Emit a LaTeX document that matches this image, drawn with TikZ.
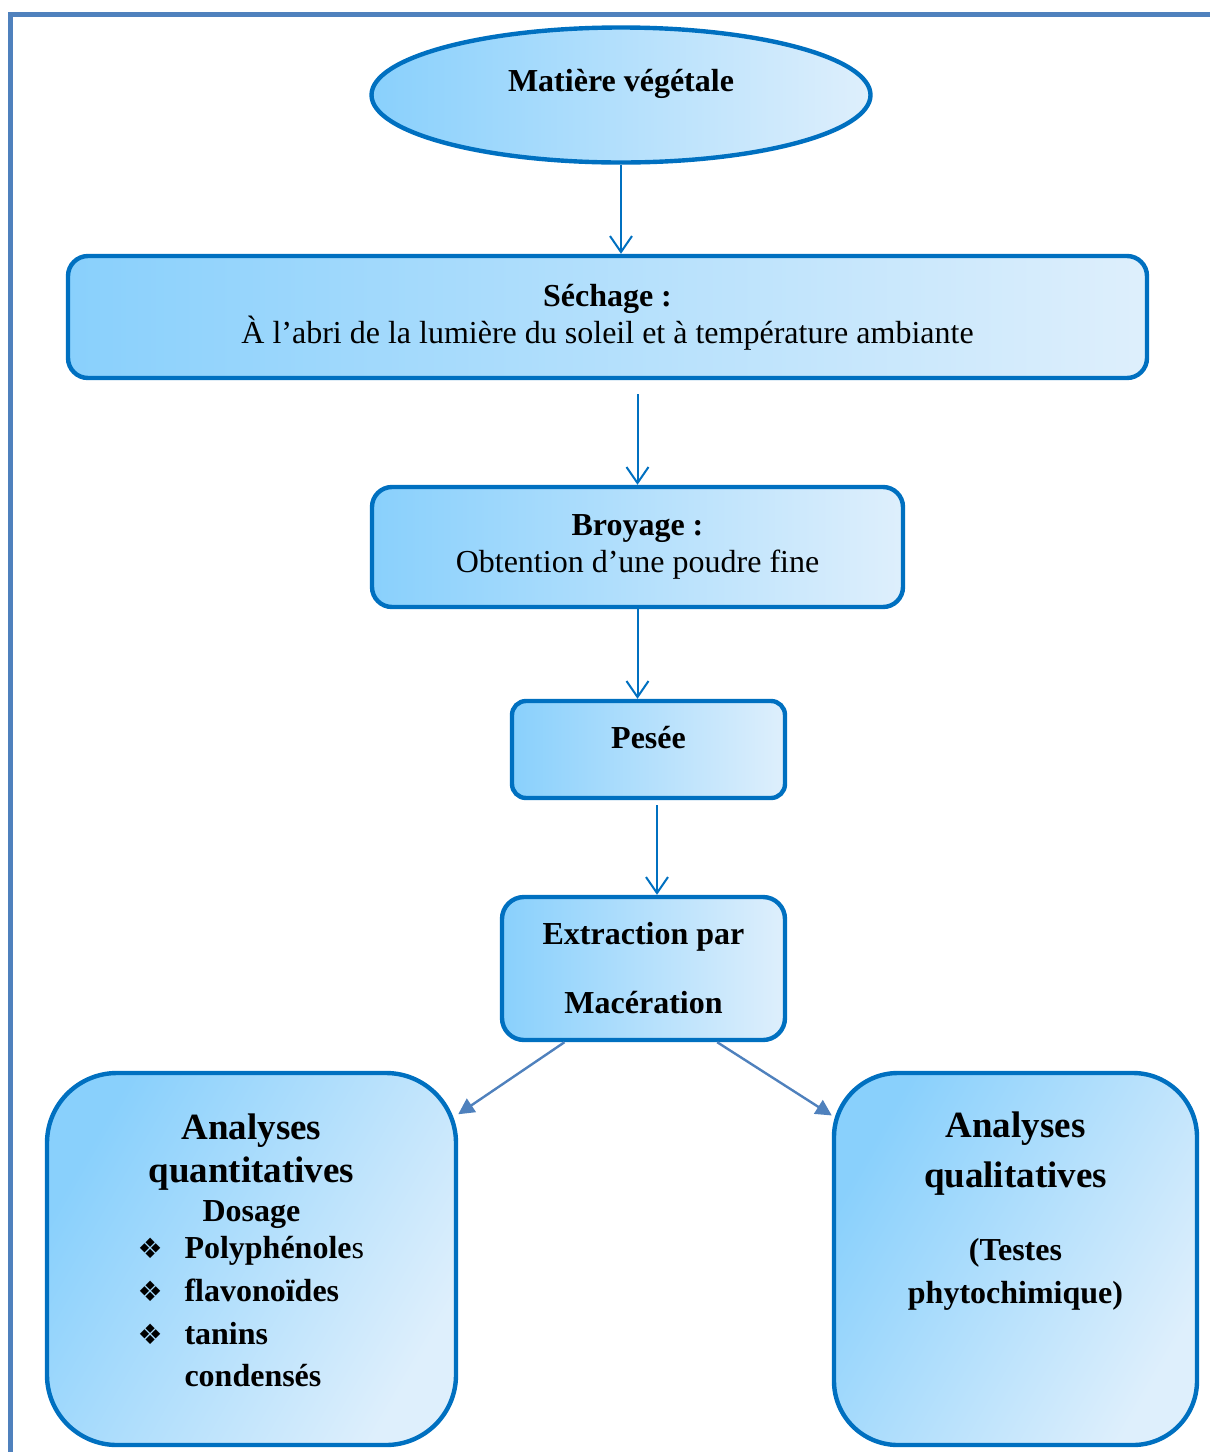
\documentclass[tikz,border=0pt]{standalone}
\usepackage{fontspec}
\setmainfont{Liberation Serif}
\newfontfamily\bulletfont{DejaVu Sans}
\usepackage{xcolor}
\usepackage{tikz}
\usetikzlibrary{arrows.meta,positioning,shapes.geometric}
\definecolor{boxline}{RGB}{0,112,192}
\definecolor{framecol}{RGB}{79,129,189}
\definecolor{skydeep}{RGB}{137,208,252}
\definecolor{skypale}{RGB}{222,239,252}
\newcommand{\diamonditem}[1]{\makebox[114pt][l]{\makebox[23.5pt][l]{\bulletfont\fontsize{14}{14}\selectfont ❖}#1}}

\begin{document}
\begin{tikzpicture}[x=0.5pt, y=-0.5pt,
  every node/.style={font=\fontsize{16}{18.5}\selectfont},
  stagebox/.style={draw=boxline, line width=2.2pt, left color=skydeep, right color=skypale, align=center, inner sep=0pt},
  flowarrow/.style={draw=boxline, line width=1pt, -{Straight Barb[length=8pt,width=11pt]}},
  splitarrow/.style={draw=framecol, line width=1.2pt, -{Triangle[length=8pt,width=8pt]}}]
  \useasboundingbox (0,0) rectangle (1210,1452);
  \draw[framecol, line width=2.5pt] (10,1480) -- (10,14) -- (1240,14);

  \node[stagebox, ellipse, minimum width=249.5pt, minimum height=67.5pt, text depth=15pt] (veg) at (621,95) {\textbf{Matière végétale}};
  \node[stagebox, rounded corners=10pt, minimum width=539.5pt, minimum height=61pt] (sech) at (607.5,317)
    {\textbf{Séchage :}\\À l’abri de la lumière du soleil et à température ambiante};
  \node[stagebox, rounded corners=10pt, minimum width=265.5pt, minimum height=60pt] (broy) at (637.5,547)
    {\textbf{Broyage :}\\Obtention d’une poudre fine};
  \node[stagebox, rounded corners=7pt, minimum width=136.5pt, minimum height=48.5pt, text depth=12pt] (pesee) at (648.5,749.5) {\textbf{Pesée}};
  \node[stagebox, rounded corners=11pt, minimum width=141.5pt, minimum height=71.5pt, font=\fontsize{16}{18.5}\selectfont\bfseries] (extr) at (643.5,968.5)
    {Extraction par\\[16pt]Macération};
  \node[stagebox, rounded corners=35pt, shading angle=60, minimum width=204.5pt, minimum height=186pt, font=\fontsize{16}{18.5}\selectfont\bfseries] (quant) at (251.5,1259)
    {{\fontsize{18.5}{21.5}\selectfont Analyses}\\[3pt]
     {\fontsize{18.5}{21.5}\selectfont quantitatives}\\[1pt]
     Dosage\\
     \diamonditem{Polyphénole{\mdseries s}}\\[3pt]
     \diamonditem{flavonoïdes}\\[3pt]
     \diamonditem{tanins}\\[2.5pt]
     \makebox[114pt][l]{\hspace{23.5pt}condensés}\\[-10pt]\mbox{}};
  \node[stagebox, rounded corners=32pt, shading angle=60, minimum width=181.5pt, minimum height=186pt, font=\fontsize{16}{18.5}\selectfont\bfseries] (qual) at (1015.5,1259)
    {{\fontsize{18.5}{21.5}\selectfont Analyses}\\[6.5pt]
     {\fontsize{18.5}{21.5}\selectfont qualitatives}\\[18pt]
     (Testes\\[3pt]
     phytochimique)\\[32.5pt]\mbox{}};

  \coordinate (pesout) at ([xshift=4.25pt]pesee.south);
  \draw[flowarrow] (veg.south) -- (veg.south |- sech.north);
  \draw[flowarrow, shorten <=7pt] (sech.south -| broy.north) -- (broy.north);
  \draw[flowarrow] (broy.south) -- (broy.south |- pesee.north);
  \draw[flowarrow, shorten <=2.5pt] (pesout) -- (pesout |- extr.north);
  \draw[splitarrow] (extr.223) -- (quant.35);
  \draw[splitarrow] (extr.315) -- (qual.142);
\end{tikzpicture}
\end{document}
